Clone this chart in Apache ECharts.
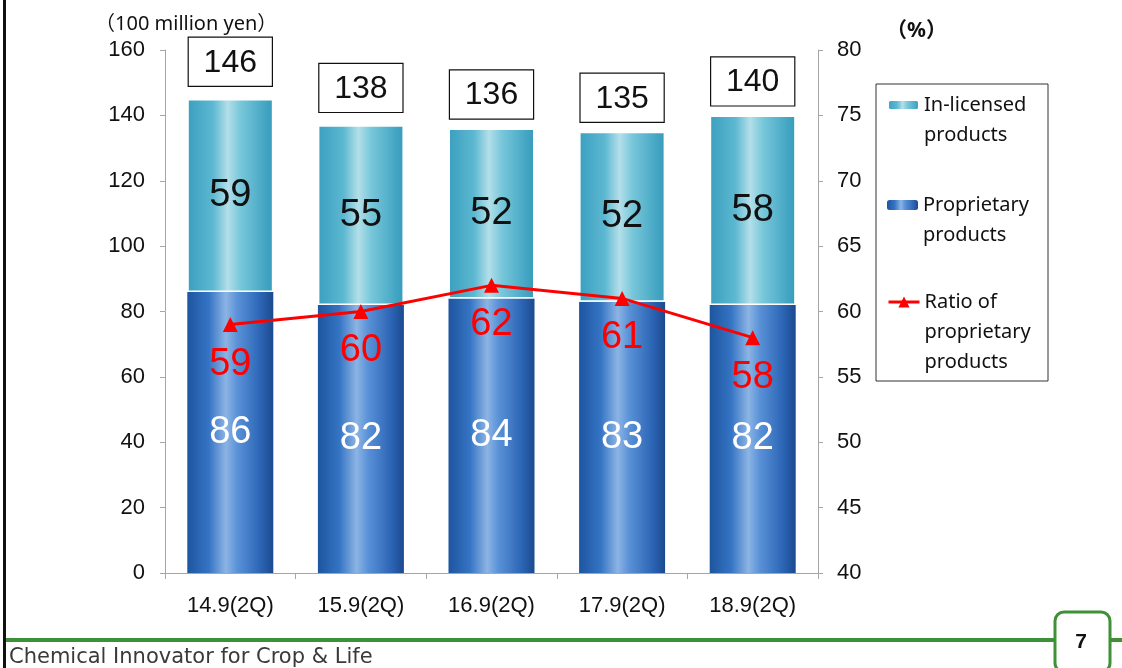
<!DOCTYPE html>
<html>
<head>
<meta charset="utf-8">
<script src="https://cdn.jsdelivr.net/npm/echarts@6/dist/echarts.min.js"></script>
<style>
  html, body { margin: 0; padding: 0; background: #fff; }
  #chart { width: 1122px; height: 668px; }
</style>
</head>
<body>
<div id="chart"></div>
<script>
// Half-year sales breakdown (2Q cumulative), 100 million yen
const categories = ['14.9(2Q)', '15.9(2Q)', '16.9(2Q)', '17.9(2Q)', '18.9(2Q)'];
const proprietary = [86, 82, 84, 83, 82];
const inLicensed = [59, 55, 52, 52, 58];
const totals = [146, 138, 136, 135, 140];
const ratio = [59, 60, 62, 61, 58];

const NAME_IN = 'In-licensed products';
const NAME_PROP = 'Proprietary products';
const NAME_RATIO = 'Ratio of proprietary products';
const legendLines = {
  [NAME_IN]: ['In-licensed', 'products'],
  [NAME_PROP]: ['Proprietary', 'products'],
  [NAME_RATIO]: ['Ratio of', 'proprietary', 'products']
};

const numFont = '"Liberation Sans", Arial, sans-serif';
const uiFont = '"Noto Sans", "Noto Sans CJK JP", sans-serif';

const propGradient = new echarts.graphic.LinearGradient(0, 0, 1, 0, [
  { offset: 0, color: '#1d559f' },
  { offset: 0.25, color: '#3574c4' },
  { offset: 0.45, color: '#8cb4e4' },
  { offset: 0.58, color: '#5a92d8' },
  { offset: 0.85, color: '#2c65b5' },
  { offset: 1, color: '#1b4a8e' }
]);
const inGradient = new echarts.graphic.LinearGradient(0, 0, 1, 0, [
  { offset: 0, color: '#3a9fbf' },
  { offset: 0.3, color: '#5db8d1' },
  { offset: 0.47, color: '#b3dfe9' },
  { offset: 0.62, color: '#78c7da' },
  { offset: 0.9, color: '#44a6c4' },
  { offset: 1, color: '#379bbb' }
]);

// One legend block per series. Blank lines are prepended so that the
// vertically centred text puts its first line level with the icon.
function legendBlock(name, top, extra) {
  return Object.assign({
    data: [name],
    orient: 'vertical',
    left: 887,
    top: top,
    padding: 0,
    itemWidth: 31,
    itemHeight: 10,
    selectedMode: false,
    formatter: n => {
      const lines = legendLines[n];
      const pad = new Array(lines.length - 1).fill(' ');
      return pad.concat(lines).join('\n');
    },
    textStyle: {
      fontFamily: uiFont,
      fontSize: 20,
      color: '#111',
      lineHeight: 30
    }
  }, extra || {});
}

const chart = echarts.init(document.getElementById('chart'), null, { renderer: 'canvas' });

chart.setOption({
  animation: false,
  backgroundColor: '#fff',
  grid: { left: 165, right: 304, top: 50, bottom: 95, containLabel: false },
  legend: [
    legendBlock(NAME_IN, 60),
    legendBlock(NAME_PROP, 160),
    legendBlock(NAME_RATIO, 227, { itemHeight: 14, lineStyle: { width: 3 } })
  ],
  xAxis: {
    type: 'category',
    data: categories,
    axisLine: { lineStyle: { color: '#a6a6a6', width: 1 } },
    axisTick: { show: true, length: 6, lineStyle: { color: '#a6a6a6' } },
    axisLabel: { fontFamily: numFont, fontSize: 22, color: '#111', margin: 22 }
  },
  yAxis: [
    {
      type: 'value', min: 0, max: 160, interval: 20,
      splitLine: { show: false },
      axisLine: { show: true, lineStyle: { color: '#a6a6a6' } },
      axisTick: { show: true, length: 5, lineStyle: { color: '#a6a6a6' } },
      axisLabel: { fontFamily: numFont, fontSize: 22, color: '#111', margin: 20 }
    },
    {
      type: 'value', min: 40, max: 80, interval: 5,
      position: 'right',
      splitLine: { show: false },
      axisLine: { show: true, lineStyle: { color: '#a6a6a6' } },
      axisTick: { show: true, length: 5, lineStyle: { color: '#a6a6a6' } },
      axisLabel: { fontFamily: numFont, fontSize: 22, color: '#111', margin: 19 }
    }
  ],
  series: [
    {
      name: NAME_PROP,
      type: 'bar',
      stack: 'sales',
      barWidth: 86,
      barGap: '-100%',
      data: proprietary,
      itemStyle: { color: propGradient },
      label: {
        show: true, position: 'inside',
        fontFamily: numFont, fontSize: 38, color: '#fff'
      }
    },
    {
      name: NAME_IN,
      type: 'bar',
      stack: 'sales',
      barWidth: 86,
      barGap: '-100%',
      data: inLicensed,
      itemStyle: { color: inGradient, borderColor: '#fff', borderWidth: 1.5 },
      label: {
        show: true, position: 'inside',
        fontFamily: numFont, fontSize: 38, color: '#111'
      }
    },
    {
      name: 'Total',
      type: 'bar',
      barWidth: 86,
      barGap: '-100%',
      silent: true,
      data: totals,
      itemStyle: { color: 'rgba(0,0,0,0)' },
      label: {
        show: true, position: 'top', distance: 10,
        fontFamily: numFont, fontSize: 32, color: '#111',
        backgroundColor: '#fff', borderColor: '#111', borderWidth: 1.2,
        width: 83, height: 40, lineHeight: 40, align: 'center',
        padding: [5, 0, 3, 0]
      }
    },
    {
      name: NAME_RATIO,
      type: 'line',
      yAxisIndex: 1,
      data: ratio,
      symbol: 'triangle',
      symbolSize: 15,
      lineStyle: { color: '#ff0000', width: 3 },
      itemStyle: { color: '#ff0000' },
      z: 5,
      label: {
        show: true, position: 'bottom', distance: 13,
        fontFamily: numFont, fontSize: 38, color: '#ff0000'
      }
    }
  ],
  graphic: [
    // slide frame and footer
    { type: 'rect', shape: { x: 3, y: 0, width: 3, height: 668 }, style: { fill: '#111' }, silent: true },
    { type: 'rect', shape: { x: 6, y: 638, width: 1116, height: 4 }, style: { fill: '#3f9137' }, silent: true },
    {
      type: 'rect', shape: { x: 1055, y: 612, width: 55, height: 60, r: 9 },
      style: { fill: '#fff', stroke: '#3f9137', lineWidth: 3 }, silent: true
    },
    {
      type: 'text', x: 1081, y: 642,
      style: { text: '7', fontFamily: numFont, fontWeight: 'bold', fontSize: 21, fill: '#111', align: 'center', verticalAlign: 'middle' }
    },
    {
      type: 'text', x: 9, y: 658,
      style: { text: 'Chemical Innovator for Crop & Life', fontFamily: '"DejaVu Sans", sans-serif', fontSize: 21, fill: '#3a3a3a', verticalAlign: 'middle' }
    },
    // axis unit captions
    {
      type: 'text', x: 95, y: 24,
      style: { text: '（100 million yen）', fontFamily: uiFont, fontSize: 20, fill: '#111', verticalAlign: 'middle' }
    },
    {
      type: 'text', x: 886, y: 31,
      style: { text: '（%）', fontFamily: uiFont, fontSize: 21, fontWeight: 'bold', fill: '#111', verticalAlign: 'middle' }
    },
    // legend frame
    {
      type: 'rect', shape: { x: 876, y: 84, width: 172, height: 297 },
      style: { fill: 'none', stroke: '#333', lineWidth: 1 }, silent: true, z: -1
    }
  ]
});
</script>
</body>
</html>
